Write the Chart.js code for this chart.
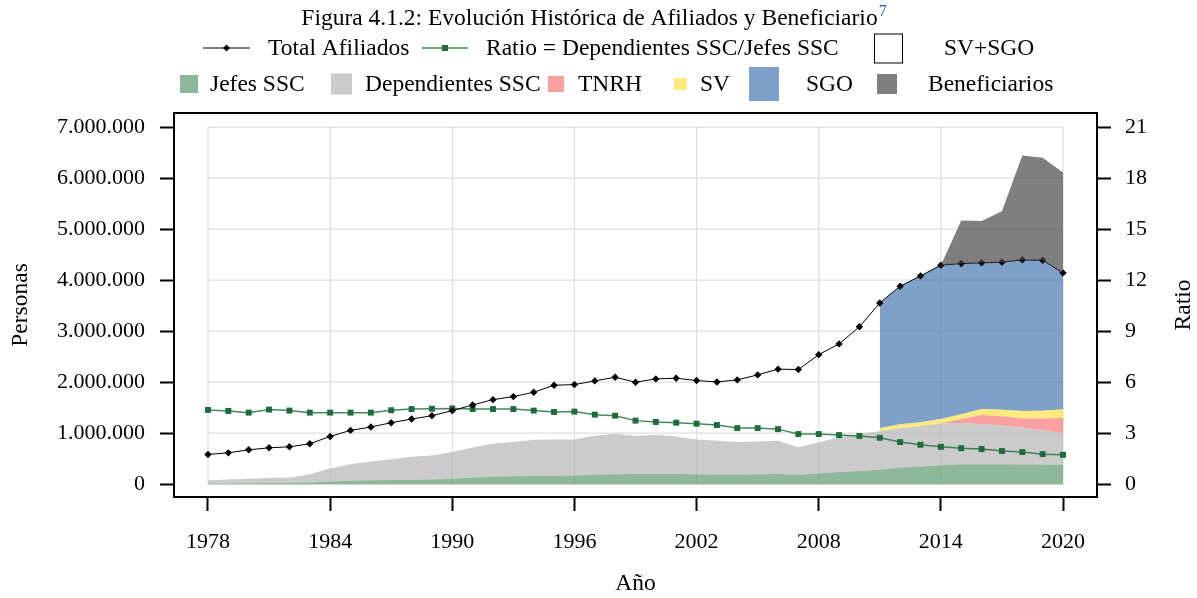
<!DOCTYPE html>
<html>
<head>
<meta charset="utf-8">
<script src="https://cdn.jsdelivr.net/npm/chart.js@4.4.1/dist/chart.umd.min.js"></script>
<style>
  body { margin: 0; background: #fff; }
  #wrap { width: 1197px; height: 598px; }
</style>
</head>
<body>
<div id="wrap"><canvas id="grafico"></canvas></div>
<script>
// años y series (personas)
const anos = [1978, 1979, 1980, 1981, 1982, 1983, 1984, 1985, 1986, 1987,
  1988, 1989, 1990, 1991, 1992, 1993, 1994, 1995, 1996, 1997,
  1998, 1999, 2000, 2001, 2002, 2003, 2004, 2005, 2006, 2007,
  2008, 2009, 2010, 2011, 2012, 2013, 2014, 2015, 2016, 2017,
  2018, 2019, 2020]

const totalAfiliados = [584000, 615000, 675000, 714000, 734000, 793000, 937000, 1055000, 1121000, 1206000,
  1278000, 1343000, 1442000, 1553000, 1658000, 1717000, 1803000, 1940000, 1953000, 2025000,
  2097000, 1999000, 2064000, 2078000, 2032000, 2005000, 2045000, 2143000, 2255000, 2248000,
  2540000, 2750000, 3085000, 3553000, 3880000, 4083000, 4293000, 4326000, 4339000, 4352000,
  4398000, 4390000, 4142000]

const ratio = [4.37, 4.31, 4.21, 4.39, 4.33, 4.21, 4.21, 4.21, 4.21, 4.35,
  4.42, 4.44, 4.46, 4.42, 4.42, 4.42, 4.33, 4.25, 4.27, 4.09,
  4.03, 3.74, 3.66, 3.62, 3.56, 3.48, 3.30, 3.30, 3.24, 2.95,
  2.95, 2.89, 2.84, 2.73, 2.48, 2.32, 2.20, 2.12, 2.07, 1.95,
  1.89, 1.77, 1.73]

const jefesSSC = [15000, 17000, 20000, 22000, 24000, 35000, 55000, 70000, 78000, 85000,
  90000, 95000, 110000, 130000, 145000, 155000, 160000, 165000, 170000, 185000,
  195000, 200000, 205000, 200000, 195000, 190000, 190000, 195000, 200000, 185000,
  210000, 240000, 260000, 285000, 330000, 350000, 370000, 390000, 390000, 390000,
  385000, 385000, 375000]

const dependientesSSC = [64000, 78000, 90000, 98000, 106000, 162000, 253000, 323000, 368000, 405000,
  447000, 468000, 520000, 590000, 655000, 675000, 710000, 713000, 708000, 765000,
  795000, 744000, 765000, 737000, 683000, 660000, 640000, 645000, 650000, 542000,
  610000, 684000, 720000, 760000, 768000, 793000, 818000, 810000, 786000, 760000,
  720000, 675000, 625000]

const anosRecientes = [2011, 2012, 2013, 2014, 2015, 2016, 2017, 2018, 2019, 2020]
const tnrh = [0, 0, 0, 0, 80000, 180000, 180000, 185000, 230000, 300000]
const sv = [50000, 78000, 73000, 92000, 90000, 120000, 130000, 147000, 150000, 170000]
const sgo = [2455000, 2704000, 2867000, 3013000, 2956000, 2859000, 2892000, 2961000, 2950000, 2672000]

const anosBenef = [2014, 2015, 2016, 2017, 2018, 2019, 2020]
const beneficiarios = [4293000, 5170000, 5157000, 5350000, 6440000, 6400000, 6110000]

// ejes
const ticksAnos = [1978, 1984, 1990, 1996, 2002, 2008, 2014, 2020]
const ticksPersonas = [0, 1000000, 2000000, 3000000, 4000000, 5000000, 6000000, 7000000]
const ticksRatio = [0, 3, 6, 9, 12, 15, 18, 21]

const SERIF = "'Liberation Serif', 'Times New Roman', serif"
Chart.defaults.font.family = SERIF
Chart.defaults.font.size = 22
Chart.defaults.color = '#000'

const cJefes = 'rgba(94,154,109,0.7)'
const cDep = 'rgba(181,181,181,0.7)'
const cTnrh = 'rgba(249,119,119,0.7)'
const cSv = 'rgba(255,225,74,0.7)'
const cSgo = 'rgba(72,119,176,0.7)'
const cBen = 'rgba(72,72,72,0.7)'
const verdeLinea = 'rgba(35,115,62,0.85)'
const verdeMarca = '#1f6b3b'

const pts = (xs, ys) => xs.map((a, i) => ({ x: a, y: ys[i] }))
const miles = v => String(v).replace(/\B(?=(\d{3})+(?!\d))/g, '.')

const area = (label, xs, ys, color, fill) => ({
  label: label,
  data: pts(xs, ys),
  stack: 'areas',
  order: 3,
  fill: fill,
  backgroundColor: color,
  borderColor: 'rgba(0,0,0,0)',
  borderWidth: 0,
  pointRadius: 0
})

const gridPlugin = {
  id: 'rejilla',
  beforeDatasetsDraw(chart) {
    const { ctx, scales: { x, y } } = chart
    const x0 = x.getPixelForValue(ticksAnos[0])
    const x1 = x.getPixelForValue(ticksAnos[ticksAnos.length - 1])
    const y0 = y.getPixelForValue(ticksPersonas[0])
    const y1 = y.getPixelForValue(ticksPersonas[ticksPersonas.length - 1])
    ctx.save()
    ctx.strokeStyle = '#dedede'
    ctx.lineWidth = 1.2
    ctx.beginPath()
    ticksAnos.forEach(v => {
      const px = x.getPixelForValue(v)
      ctx.moveTo(px, y0); ctx.lineTo(px, y1)
    })
    ticksPersonas.forEach(v => {
      const py = y.getPixelForValue(v)
      ctx.moveTo(x0, py); ctx.lineTo(x1, py)
    })
    ctx.stroke()
    ctx.restore()
  },
  afterDraw(chart) {
    const { ctx, chartArea: a } = chart
    ctx.save()
    ctx.strokeStyle = '#000'
    ctx.lineWidth = 2
    ctx.strokeRect(a.left, a.top, a.right - a.left, a.bottom - a.top)
    ctx.restore()
  }
}

// título, leyenda y título del eje derecho
const leyenda1 = [
  { tipo: 'linea', color: '#000', marca: 'diamante', x0: 203, x1: 250, texto: 'Total Afiliados', tx: 268 },
  { tipo: 'linea', color: verdeLinea, marca: 'cuadrado', x0: 422, x1: 468, texto: 'Ratio = Dependientes SSC/Jefes SSC', tx: 486 },
  { tipo: 'caja', x0: 874, w: 28, h: 29, texto: 'SV+SGO', tx: 944 }
]
const leyenda2 = [
  { color: cJefes, x0: 180, w: 18, h: 18, texto: 'Jefes SSC', tx: 210 },
  { color: cDep, x0: 331, w: 21, h: 21, texto: 'Dependientes SSC', tx: 365 },
  { color: cTnrh, x0: 548, w: 16, h: 16, texto: 'TNRH', tx: 578 },
  { color: cSv, x0: 674, w: 13, h: 12, texto: 'SV', tx: 700 },
  { color: cSgo, x0: 749, w: 30, h: 34, texto: 'SGO', tx: 806 },
  { color: cBen, x0: 877, w: 20, h: 20, texto: 'Beneficiarios', tx: 928 }
]

const leyendaPlugin = {
  id: 'leyenda',
  afterDraw(chart) {
    const ctx = chart.ctx
    ctx.save()
    ctx.textBaseline = 'alphabetic'
    ctx.textAlign = 'left'

    const titulo = 'Figura 4.1.2: Evolución Histórica de Afiliados y Beneficiario'
    ctx.font = '23.5px ' + SERIF
    const wt = ctx.measureText(titulo).width
    ctx.font = '16px ' + SERIF
    const ws = ctx.measureText('7').width
    const xt = 594 - (wt + ws + 1) / 2
    ctx.font = '23.5px ' + SERIF
    ctx.fillStyle = '#000'
    ctx.fillText(titulo, xt, 25)
    ctx.font = '16px ' + SERIF
    ctx.fillStyle = '#2a5ca8'
    ctx.fillText('7', xt + wt + 1, 16)

    ctx.font = '23.5px ' + SERIF
    ctx.fillStyle = '#000'
    const yc1 = 48
    leyenda1.forEach(it => {
      if (it.tipo === 'linea') {
        ctx.strokeStyle = it.color
        ctx.lineWidth = it.marca === 'cuadrado' ? 1.5 : 1
        ctx.beginPath(); ctx.moveTo(it.x0, yc1); ctx.lineTo(it.x1, yc1); ctx.stroke()
        const xm = (it.x0 + it.x1) / 2
        if (it.marca === 'diamante') {
          ctx.fillStyle = '#000'
          ctx.beginPath()
          ctx.moveTo(xm, yc1 - 3.5); ctx.lineTo(xm + 3.5, yc1); ctx.lineTo(xm, yc1 + 3.5); ctx.lineTo(xm - 3.5, yc1)
          ctx.closePath(); ctx.fill()
        } else {
          ctx.fillStyle = verdeMarca
          ctx.fillRect(xm - 3, yc1 - 3, 6, 6)
        }
      } else {
        ctx.fillStyle = '#fff'
        ctx.fillRect(it.x0, yc1 - it.h / 2, it.w, it.h)
        ctx.strokeStyle = '#000'
        ctx.lineWidth = 1
        ctx.strokeRect(it.x0 + 0.5, yc1 - it.h / 2 + 0.5, it.w, it.h)
      }
      ctx.fillStyle = '#000'
      ctx.fillText(it.texto, it.tx, 55)
    })

    const yc2 = 84
    leyenda2.forEach(it => {
      ctx.fillStyle = it.color
      ctx.fillRect(it.x0, yc2 - it.h / 2, it.w, it.h)
      ctx.fillStyle = '#000'
      ctx.fillText(it.texto, it.tx, 91)
    })

    // título del eje derecho, de abajo hacia arriba
    const a = chart.chartArea
    ctx.translate(1184, (a.top + a.bottom) / 2)
    ctx.rotate(-Math.PI / 2)
    ctx.textAlign = 'center'
    ctx.textBaseline = 'middle'
    ctx.fillText('Ratio', 0, 0)
    ctx.restore()
  }
}

new Chart(document.getElementById('grafico'), {
  type: 'line',
  data: {
    datasets: [
      area('Jefes SSC', anos, jefesSSC, cJefes, 'origin'),
      area('Dependientes SSC', anos, dependientesSSC, cDep, '-1'),
      area('TNRH', anosRecientes, tnrh, cTnrh, '-1'),
      area('SV', anosRecientes, sv, cSv, '-1'),
      area('SGO', anosRecientes, sgo, cSgo, '-1'),
      {
        label: 'Total Afiliados',
        data: pts(anos, totalAfiliados),
        stack: 'total',
        order: 2,
        fill: false,
        borderColor: '#000',
        borderWidth: 1,
        pointStyle: 'rectRot',
        pointRadius: 3.7,
        pointBackgroundColor: '#000',
        pointBorderWidth: 0
      },
      {
        label: 'Ratio = Dependientes SSC/Jefes SSC',
        data: pts(anos, ratio),
        yAxisID: 'y1',
        order: 2,
        fill: false,
        borderColor: verdeLinea,
        borderWidth: 1.5,
        pointStyle: 'rect',
        pointRadius: 4.2,
        pointBackgroundColor: verdeMarca,
        pointBorderWidth: 0
      },
      {
        label: 'Beneficiarios',
        data: pts(anosBenef, beneficiarios),
        stack: 'benef',
        order: 1,
        fill: 5,
        backgroundColor: cBen,
        borderColor: 'rgba(0,0,0,0)',
        borderWidth: 0,
        pointRadius: 0
      }
    ]
  },
  options: {
    responsive: true,
    maintainAspectRatio: false,
    animation: false,
    layout: { padding: { top: 113, left: 0, right: 0, bottom: 0 } },
    elements: { line: { tension: 0 } },
    plugins: {
      legend: { display: false },
      title: { display: false },
      tooltip: { enabled: false }
    },
    scales: {
      x: {
        type: 'linear',
        min: 1976.33,
        max: 2021.67,
        afterBuildTicks: s => { s.ticks = ticksAnos.map(v => ({ value: v })) },
        afterFit: s => { s.height = 101 },
        ticks: { padding: 18, autoSkip: false, maxRotation: 0, callback: v => String(v) },
        grid: { drawOnChartArea: false, tickLength: 14, tickWidth: 2, tickColor: '#000' },
        border: { display: false },
        title: { display: true, text: 'Año', font: { size: 23.5 }, padding: { top: 0, bottom: 0 } }
      },
      y: {
        stacked: true,
        min: -250000,
        max: 7275000,
        afterBuildTicks: s => { s.ticks = ticksPersonas.map(v => ({ value: v })) },
        afterFit: s => { s.width = 174 },
        ticks: { padding: 15, callback: v => miles(v) },
        grid: { drawOnChartArea: false, tickLength: 14, tickWidth: 2, tickColor: '#000' },
        border: { display: false },
        title: { display: true, text: 'Personas', font: { size: 23.5 }, padding: { top: 7, bottom: 0 } }
      },
      y1: {
        position: 'right',
        min: -0.75,
        max: 21.825,
        afterBuildTicks: s => { s.ticks = ticksRatio.map(v => ({ value: v })) },
        afterFit: s => { s.width = 100 },
        ticks: { padding: 14, callback: v => String(v) },
        grid: { drawOnChartArea: false, tickLength: 14, tickWidth: 2, tickColor: '#000' },
        border: { display: false }
      }
    }
  },
  plugins: [gridPlugin, leyendaPlugin]
})
</script>
</body>
</html>
